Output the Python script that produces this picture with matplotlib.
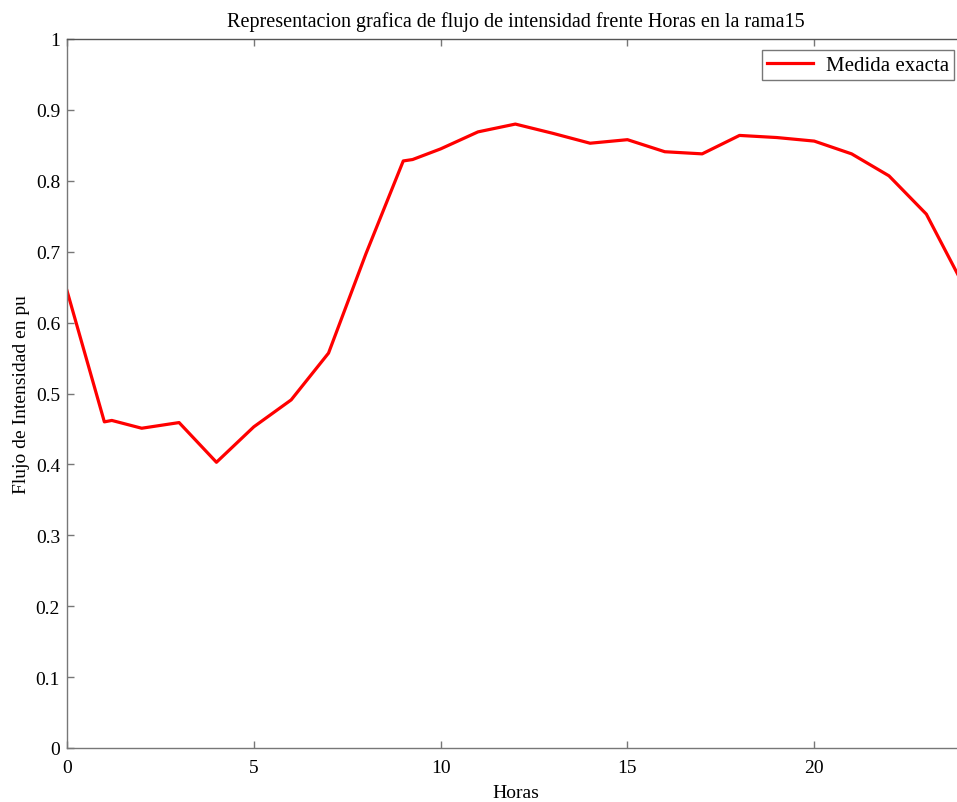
import matplotlib
matplotlib.use("Agg")
import matplotlib.pyplot as plt

# Hourly branch current readings (per unit)
horas = [0, 1, 1.2, 2, 3, 4, 5, 6, 7, 8, 9, 9.25, 10, 11, 12, 13, 14, 15,
         16, 17, 18, 19, 20, 21, 22, 23, 24]
flujo = [0.645, 0.460, 0.462, 0.451, 0.459, 0.403, 0.453, 0.491, 0.557, 0.697,
         0.828, 0.830, 0.845, 0.869, 0.880, 0.867, 0.853, 0.858, 0.841, 0.838,
         0.864, 0.861, 0.856, 0.838, 0.807, 0.753, 0.652]

xticks = [0, 5, 10, 15, 20]
yticks = [0, 0.1, 0.2, 0.3, 0.4, 0.5, 0.6, 0.7, 0.8, 0.9, 1]
ytick_labels = ["0", "0.1", "0.2", "0.3", "0.4", "0.5", "0.6", "0.7", "0.8", "0.9", "1"]

plt.rcParams["font.family"] = ["Liberation Serif", "DejaVu Serif"]

W, H = 957, 803
fig = plt.figure(figsize=(W / 100, H / 100), dpi=100)
left, right, top, bottom = 67, 963.7, 40, 749
ax = fig.add_axes([left / W, 1 - bottom / H, (right - left) / W, (bottom - top) / H])

line, = ax.plot(horas, flujo, color="#ff0000", lw=2.3, label="Medida exacta")

ax.set_xlim(0, 24)
ax.set_ylim(0, 1)
ax.set_xticks(xticks)
ax.set_yticks(yticks)
ax.set_yticklabels(ytick_labels)
ax.tick_params(direction="in", length=5, width=1, colors="#777777",
               labelcolor="black", labelsize=14, top=True, right=True)
ax.tick_params(axis="x", pad=8)
ax.tick_params(axis="y", pad=5)
for s in ax.spines.values():
    s.set_color("#777777")
    s.set_linewidth(1)
ax.spines["top"].set_color("#555555")

ax.set_xlabel("Horas", fontsize=14, labelpad=6)
ax.set_ylabel("Flujo de Intensidad en pu", fontsize=14, labelpad=4)
ax.set_title("Representacion grafica de flujo de intensidad frente Horas en la rama15",
             fontsize=14.5, pad=9)

leg = ax.legend(loc="upper right", bbox_to_anchor=(954 / W, 1 - 51 / H),
                bbox_transform=fig.transFigure, borderaxespad=0, fontsize=15,
                fancybox=False, frameon=True, handlelength=2.2, borderpad=0.25,
                handletextpad=0.6)
leg.get_frame().set_edgecolor("#555555")
leg.get_frame().set_linewidth(1)

fig.savefig("out.png", dpi=100)
